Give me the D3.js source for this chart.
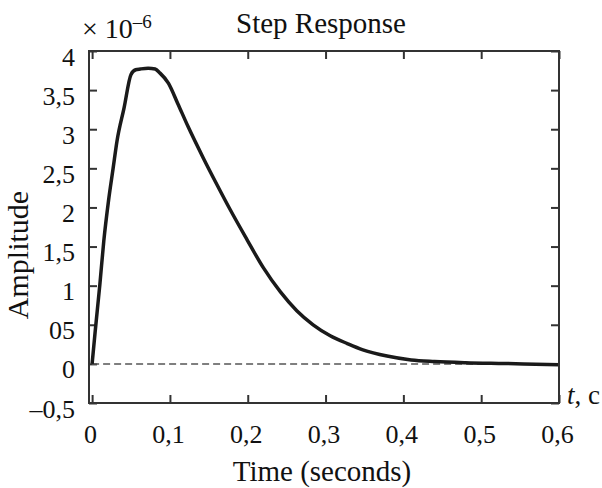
<!DOCTYPE html>
<html>
<head>
<meta charset="utf-8">
<script src="https://cdn.jsdelivr.net/npm/d3@7"></script>
<style>
  body { margin: 0; background: #fff; }
  svg { display: block; }
  text { font-family: "Liberation Serif", "Times New Roman", serif; fill: #111; }
</style>
</head>
<body>
<div class="chart"></div>
<script>
// time (s) and amplitude (x 10^-6)
var times = [0, 0.004, 0.01, 0.015, 0.021, 0.027, 0.032, 0.041, 0.05, 0.056, 0.062, 0.072, 0.081, 0.087,
  0.098, 0.11, 0.123, 0.143, 0.16, 0.177, 0.199, 0.22, 0.242, 0.263, 0.284, 0.306, 0.328, 0.348,
  0.379, 0.41, 0.44, 0.48, 0.53, 0.6];
var amplitude = [0, 0.42, 1.02, 1.57, 2.08, 2.5, 2.85, 3.27, 3.7, 3.76, 3.77, 3.78, 3.77, 3.72,
  3.59, 3.33, 3.04, 2.63, 2.3, 1.98, 1.59, 1.23, 0.92, 0.68, 0.5, 0.36, 0.26, 0.18,
  0.1, 0.05, 0.03, 0.015, 0.005, -0.01];

var xTicks = [0, 0.1, 0.2, 0.3, 0.4, 0.5, 0.6];
var xTickLabels = ["0", "0,1", "0,2", "0,3", "0,4", "0,5", "0,6"];
var yTicks = [-0.5, 0, 0.5, 1, 1.5, 2, 2.5, 3, 3.5, 4];
var yTickLabels = ["–0,5", "0", "05", "1", "1,5", "2", "2,5", "3", "3,5", "4"];

var svgWidth = 602;
var svgHeight = 488;
var margin = { top: 51, right: 43, bottom: 85, left: 89 };
var width = svgWidth - margin.left - margin.right;
var height = svgHeight - margin.top - margin.bottom;

var svg = d3.select(".chart")
  .append("svg")
  .attr("width", svgWidth)
  .attr("height", svgHeight);

var chartGroup = svg.append("g")
  .attr("transform", `translate(${margin.left}, ${margin.top})`);

var x = d3.scaleLinear().domain([-0.004, 0.6]).range([0, width]);
var y = d3.scaleLinear().domain([-0.5, 4]).range([height, 0]);

// axes, ticks pointing inward
var bottomAxis = d3.axisBottom(x).tickValues(xTicks).tickSize(-8)
  .tickFormat((d, i) => xTickLabels[i]);
var topAxis = d3.axisTop(x).tickValues(xTicks).tickSize(-8).tickFormat("");
var leftAxis = d3.axisLeft(y).tickValues(yTicks).tickSize(-8).tickPadding(14)
  .tickFormat((d, i) => yTickLabels[i]);
var rightAxis = d3.axisRight(y).tickValues(yTicks).tickSize(-8).tickFormat("");

var gb = chartGroup.append("g").attr("transform", `translate(0, ${height})`).call(bottomAxis);
var gt = chartGroup.append("g").call(topAxis);
var gl = chartGroup.append("g").call(leftAxis);
var gr = chartGroup.append("g").attr("transform", `translate(${width}, 0)`).call(rightAxis);

[gb, gt, gl, gr].forEach(function(g) {
  g.select(".domain").remove();
  g.selectAll(".tick line").attr("stroke", "#333").attr("stroke-width", 2);
  g.attr("font-family", null).attr("font-size", null);
});

gb.selectAll(".tick text")
  .attr("y", 40)
  .attr("dy", 0)
  .attr("dx", -2)
  .style("font-size", "26px");

gl.selectAll(".tick text")
  .attr("dy", 14)
  .style("font-size", "26px");

// dashed zero line
chartGroup.append("line")
  .attr("x1", x(0))
  .attr("x2", width)
  .attr("y1", y(0))
  .attr("y2", y(0))
  .attr("stroke", "#555")
  .attr("stroke-width", 1.5)
  .attr("stroke-dasharray", "7,4");

// response curve
var line = d3.line()
  .x((d, i) => x(times[i]))
  .y(d => y(d))
  .curve(d3.curveMonotoneX);

chartGroup.append("path")
  .datum(amplitude)
  .attr("d", line)
  .attr("fill", "none")
  .attr("stroke", "#1a1a1a")
  .attr("stroke-width", 3.5)
  .attr("stroke-linejoin", "round");

// frame
chartGroup.append("rect")
  .attr("width", width)
  .attr("height", height)
  .attr("fill", "none")
  .attr("stroke", "#333")
  .attr("stroke-width", 2);

// title
svg.append("text")
  .attr("x", 321)
  .attr("y", 33)
  .attr("text-anchor", "middle")
  .style("font-size", "29px")
  .text("Step Response");

// exponent
var expo = svg.append("text")
  .attr("x", 82)
  .attr("y", 38)
  .style("font-size", "28px");
expo.append("tspan").text("× 10");
expo.append("tspan").attr("dy", -10).style("font-size", "19px").text("–6");

// axis labels
svg.append("text")
  .attr("transform", "rotate(-90)")
  .attr("x", -255)
  .attr("y", 28)
  .attr("text-anchor", "middle")
  .style("font-size", "30px")
  .text("Amplitude");

svg.append("text")
  .attr("x", 322)
  .attr("y", 481)
  .attr("text-anchor", "middle")
  .style("font-size", "29px")
  .text("Time (seconds)");

var tLabel = svg.append("text")
  .attr("x", 567)
  .attr("y", 404)
  .style("font-size", "27px");
tLabel.append("tspan").style("font-style", "italic").text("t");
tLabel.append("tspan").text(", c");
</script>
</body>
</html>
